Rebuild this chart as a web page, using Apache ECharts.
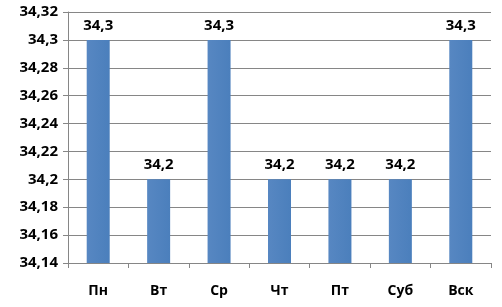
<!DOCTYPE html>
<html><head><meta charset="utf-8">
<script src="https://cdn.jsdelivr.net/npm/echarts@6/dist/echarts.min.js"></script>
<style>html,body{margin:0;padding:0;background:#fff}#c{width:502px;height:307px}</style>
</head><body><div id="c"></div>
<script>
const categories = ['Пн','Вт','Ср','Чт','Пт','Суб','Вск'];
const values = [34.3, 34.2, 34.3, 34.2, 34.2, 34.2, 34.3];
const yMin = 34.14, yMax = 34.32, yStep = 0.02;
const fmt = v => String(Math.round(v*100)/100).replace('.', ',');
const chart = echarts.init(document.getElementById('c'));
const font = '"Open Sans", "DejaVu Sans", sans-serif';
chart.setOption({
  animation: false,
  grid: {left: 68, right: 11, top: 12, bottom: 44},
  xAxis: {
    type: 'category', data: categories,
    axisLine: {lineStyle: {color: '#868686'}},
    axisTick: {show: true, length: 5, lineStyle: {color: '#868686'}},
    axisLabel: {color: '#000', fontFamily: font, fontWeight: 'bold', fontSize: 14, margin: 21}
  },
  yAxis: {
    type: 'value', min: yMin, max: yMax, interval: yStep,
    axisLine: {show: true, lineStyle: {color: '#868686'}},
    axisTick: {show: true, length: 5, lineStyle: {color: '#868686'}},
    splitLine: {lineStyle: {color: '#868686'}},
    axisLabel: {color: '#000', fontFamily: font, fontWeight: 'bold', fontSize: 15, margin: 10, formatter: fmt}
  },
  series: [{
    type: 'bar', data: values, barWidth: 23,
    itemStyle: {color: new echarts.graphic.LinearGradient(0,0,1,0,[{offset:0,color:'#5787c2'},{offset:1,color:'#4b7fbc'}])},
    label: {show: true, position: 'top', distance: 7, color: '#000', fontFamily: font, fontWeight: 'bold', fontSize: 15, formatter: p => fmt(p.value)}
  }]
});
</script></body></html>
